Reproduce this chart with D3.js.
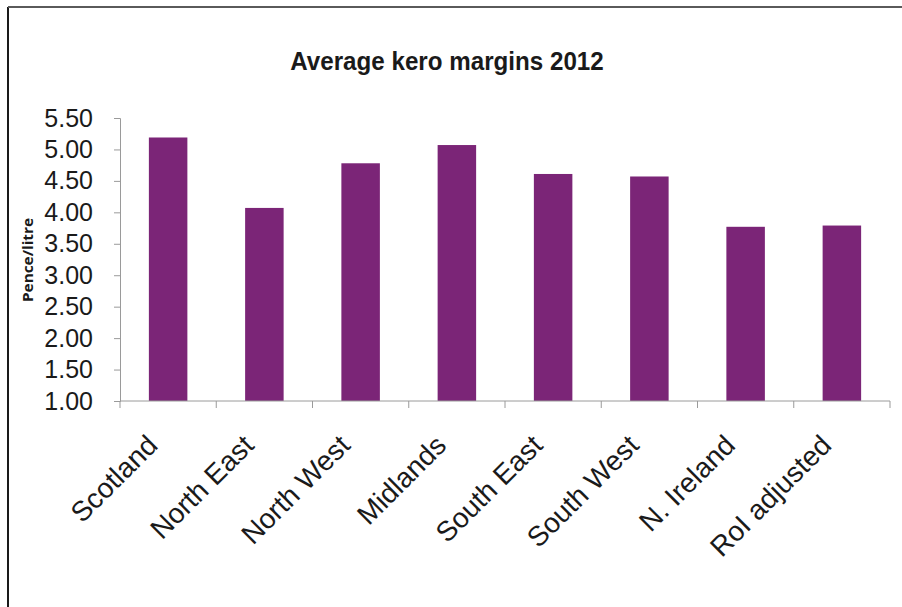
<!DOCTYPE html>
<html>
<head>
<meta charset="utf-8">
<script src="https://cdn.jsdelivr.net/npm/d3@7"></script>
<style>
  html, body { margin: 0; padding: 0; background: #fff; }
  svg { display: block; }
</style>
</head>
<body>
<svg id="chart" width="902" height="607"></svg>
<script>
// Average kerosene margins by region, 2012 (pence per litre)
const regions = ["Scotland", "North East", "North West", "Midlands",
                 "South East", "South West", "N. Ireland", "RoI adjusted"];
const margins = [5.19, 4.07, 4.78, 5.07, 4.61, 4.57, 3.77, 3.79];
const yTicks = [1.00, 1.50, 2.00, 2.50, 3.00, 3.50, 4.00, 4.50, 5.00, 5.50];
const titleText = "Average kero margins 2012";
const yLabel = "Pence/litre";

const svg = d3.select("#chart");
const W = 902, H = 607;
const plot = { left: 120, right: 890, top: 118, bottom: 401 };
const barColor = "#7b2577";
const axisColor = "#9a9a9a";

// Page frame: dark rule on the left, grey rule along the top
svg.append("line").attr("x1", 8).attr("x2", 8).attr("y1", 7).attr("y2", H)
  .attr("stroke", "#1a1a1a").attr("stroke-width", 2);
svg.append("line").attr("x1", 8).attr("x2", W).attr("y1", 7).attr("y2", 7)
  .attr("stroke", "#5a5a5a").attr("stroke-width", 2);

// Title, set in a slightly condensed bold face
svg.append("text")
  .attr("transform", "translate(447,70) scale(0.93,1)")
  .attr("text-anchor", "middle")
  .attr("font-family", "'Liberation Sans', Arial, sans-serif")
  .attr("font-weight", "bold")
  .attr("font-size", 26)
  .attr("fill", "#1a1a1a")
  .text(titleText);

const x = d3.scaleBand()
  .domain(regions)
  .range([plot.left, plot.right])
  .paddingInner(0.6)
  .paddingOuter(0.3);

const y = d3.scaleLinear()
  .domain([d3.min(yTicks), d3.max(yTicks)])
  .range([plot.bottom, plot.top]);

// Bars
svg.append("g").selectAll("rect")
  .data(regions.map((r, i) => ({ region: r, value: margins[i] })))
  .join("rect")
  .attr("x", d => x(d.region))
  .attr("width", x.bandwidth())
  .attr("y", d => y(d.value))
  .attr("height", d => y(y.domain()[0]) - y(d.value))
  .attr("fill", barColor);

// Y axis
const yAxis = svg.append("g")
  .attr("transform", `translate(${plot.left},0)`)
  .call(d3.axisLeft(y).tickValues(yTicks).tickFormat(d3.format(".2f"))
    .tickSize(6).tickPadding(21));
yAxis.select(".domain").attr("stroke", axisColor);
yAxis.selectAll(".tick line").attr("stroke", axisColor);
yAxis.selectAll(".tick text")
  .attr("font-family", "'Liberation Sans', Arial, sans-serif")
  .attr("font-size", 25)
  .attr("fill", "#1a1a1a");

// X axis: baseline with ticks on category boundaries
const xAxis = svg.append("g");
xAxis.append("line")
  .attr("x1", plot.left).attr("x2", plot.right)
  .attr("y1", plot.bottom).attr("y2", plot.bottom)
  .attr("stroke", axisColor);
const half = x.step() * x.paddingInner() / 2;
const boundaries = regions.map(r => x(r) - half).concat([x(regions[regions.length - 1]) + x.bandwidth() + half]);
xAxis.selectAll("line.tick")
  .data(boundaries)
  .join("line")
  .attr("class", "tick")
  .attr("x1", d => d).attr("x2", d => d)
  .attr("y1", plot.bottom).attr("y2", plot.bottom + 7)
  .attr("stroke", axisColor);

// Rotated category labels
xAxis.selectAll("text")
  .data(regions)
  .join("text")
  .attr("transform", d => `translate(${x(d) + x.bandwidth() / 2 - 23},${plot.bottom + 32}) rotate(-45)`)
  .attr("text-anchor", "end")
  .attr("dy", "0.71em")
  .attr("font-family", "'Liberation Sans', Arial, sans-serif")
  .attr("font-size", 28)
  .attr("fill", "#1a1a1a")
  .text(d => d);

// Y-axis title
svg.append("text")
  .attr("transform", "translate(33,260) rotate(-90)")
  .attr("text-anchor", "middle")
  .attr("font-family", "'Open Sans', sans-serif")
  .attr("font-weight", "bold")
  .attr("font-size", 15)
  .attr("textLength", 84)
  .attr("lengthAdjust", "spacingAndGlyphs")
  .attr("fill", "#1a1a1a")
  .text(yLabel);
</script>
</body>
</html>
